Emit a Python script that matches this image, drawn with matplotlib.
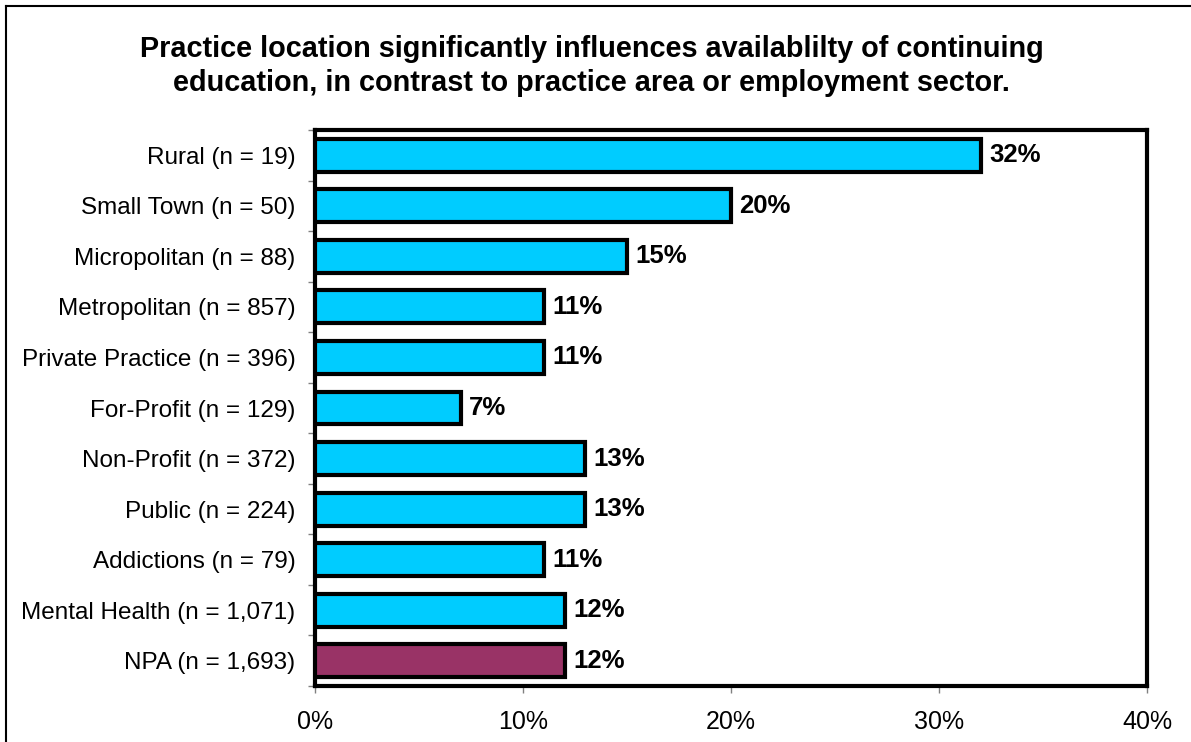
import matplotlib
matplotlib.use("Agg")
import matplotlib.pyplot as plt
from matplotlib.lines import Line2D

categories = ["Rural (n = 19)", "Small Town (n = 50)", "Micropolitan (n = 88)",
              "Metropolitan (n = 857)", "Private Practice (n = 396)", "For-Profit (n = 129)",
              "Non-Profit (n = 372)", "Public (n = 224)", "Addictions (n = 79)",
              "Mental Health (n = 1,071)", "NPA (n = 1,693)"]
values = [32, 20, 15, 11, 11, 7, 13, 13, 11, 12, 12]
bar_colors = ["#00CCFF"] * 10 + ["#993366"]
xticks = [0, 10, 20, 30, 40]
xtick_labels = ["0%", "10%", "20%", "30%", "40%"]
title = ("Practice location significantly influences availablilty of continuing\n"
         "education, in contrast to practice area or employment sector.")

plt.rcParams['font.family'] = ['Liberation Sans', 'DejaVu Sans']

fig = plt.figure(figsize=(11.91, 7.42), dpi=100)
ax = fig.add_axes([315/1191, 1-686/742, (1147-315)/1191, (686-130)/742])

n = len(categories)
ypos = list(range(n))
ax.barh(ypos, values, height=0.65, color=bar_colors, edgecolor="black", linewidth=3, zorder=3)
ax.set_ylim(n - 0.5, -0.5)
ax.set_xlim(0, 40)
ax.set_yticks(ypos)
ax.set_yticklabels(categories, fontsize=17.5)
ax.tick_params(axis='y', length=0, pad=14)
ax.set_yticks([i - 0.5 for i in range(n + 1)], minor=True)
ax.tick_params(axis='y', which='minor', length=5, color='#808080', width=1)
ax.set_xticks(xticks)
ax.set_xticklabels(xtick_labels, fontsize=18)
ax.tick_params(axis='x', length=5, color='#808080', width=1, pad=12)

for s in ax.spines.values():
    s.set_linewidth(3)
    s.set_color("black")

for y, v in zip(ypos, values):
    ax.text(v + 0.4, y, f"{v}%", va='center', ha='left', fontsize=18.5, fontweight='bold')

fig.text(0.497, 0.911, title, ha='center', va='center', fontsize=20.8, fontweight='bold',
         linespacing=1.3)

fig.add_artist(Line2D([6/1191, 1], [1-6/742, 1-6/742], transform=fig.transFigure, color='black', lw=1.5))
fig.add_artist(Line2D([6/1191, 6/1191], [0, 1-6/742], transform=fig.transFigure, color='black', lw=1.5))

fig.savefig("out.png", dpi=100)
